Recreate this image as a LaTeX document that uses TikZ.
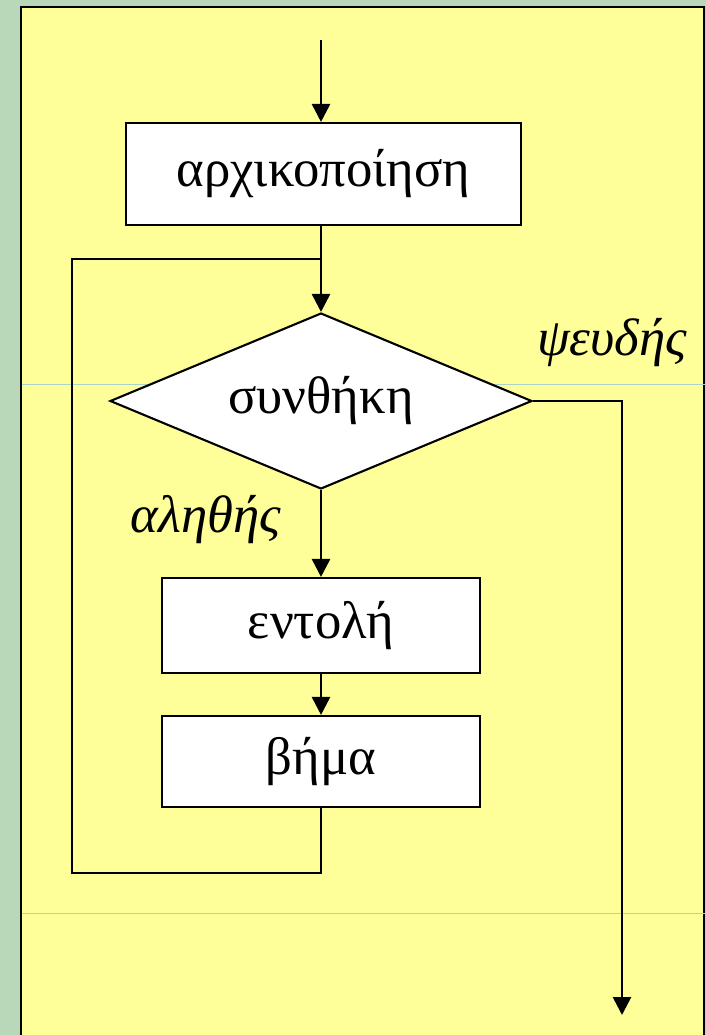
\documentclass[tikz,border=0pt]{standalone}
\usepackage{fontspec}
\setmainfont{Liberation Serif}
\usetikzlibrary{arrows.meta, positioning, shapes.geometric}
\definecolor{slidegreen}{HTML}{B9D8B9}
\definecolor{slideyellow}{HTML}{FFFF99}
\definecolor{seamline}{HTML}{A9D3CB}

\begin{document}
\begin{tikzpicture}[
  x=0.02cm, y=-0.02cm,
  stepbox/.style={rectangle, draw=black, fill=white, line width=1.2pt, font=\fontsize{30}{34}\selectfont, inner sep=0pt},
  decision/.style={diamond, aspect=2.4, draw=black, fill=white, line width=1.2pt, font=\fontsize{30}{34}\selectfont, minimum width=8.44cm, minimum height=3.52cm, inner sep=0pt},
  branchlabel/.style={font=\fontsize{30}{34}\selectfont\itshape},
  arr/.style={-{Triangle[width=0.36cm, length=0.36cm]}, line width=1.5pt},
  loopline/.style={line width=1.6pt},
]
  \useasboundingbox (0,0) rectangle (706,1035);

  % Slide background and panel
  \fill[slidegreen] (0,0) rectangle (706,1035);
  \filldraw[fill=slideyellow, draw=black, line width=1.4pt] (21,7) rectangle (704,1060);
  \draw[seamline, line width=0.4pt] (22,384) -- (706,384);
  \draw[seamline, line width=0.4pt] (22,913) -- (706,913);

  % Entry point
  \coordinate (entry) at (321,40);

  % Initialisation
  \node[stepbox, minimum width=7.9cm, minimum height=2.04cm] (init) at (323.5,174) {αρχικοποίηση};

  % Condition
  \node[decision] (cond) at (321,401) {συνθήκη};

  % Loop body
  \node[stepbox, minimum width=6.36cm, minimum height=1.9cm] (body) at (321,625.5) {εντολή};
  \node[stepbox, minimum width=6.36cm, minimum height=1.82cm] (incr) at (321,761.5) {βήμα};

  % Branch labels
  \node[branchlabel] (falselbl) at (612,343) {ψευδής};
  \node[branchlabel] (truelbl) at (206,520) {αληθής};

  % Loop corners and exit
  \coordinate (join) at (321,259);
  \coordinate (exitturn) at (622,401);
  \coordinate (exitend) at (622,1015);

  % Arrows
  \draw[arr] (entry) -- (entry |- init.north);
  \draw[arr] (init.south -| cond.north) -- (cond.north);
  \draw[arr] (cond.south) -- (body.north);
  \draw[arr] (body.south) -- (incr.north);
  \draw[loopline] (incr.south) |- (72,873) |- (join);
  \draw[arr] (cond.east) -- (exitturn) -- (exitend);
\end{tikzpicture}
\end{document}
